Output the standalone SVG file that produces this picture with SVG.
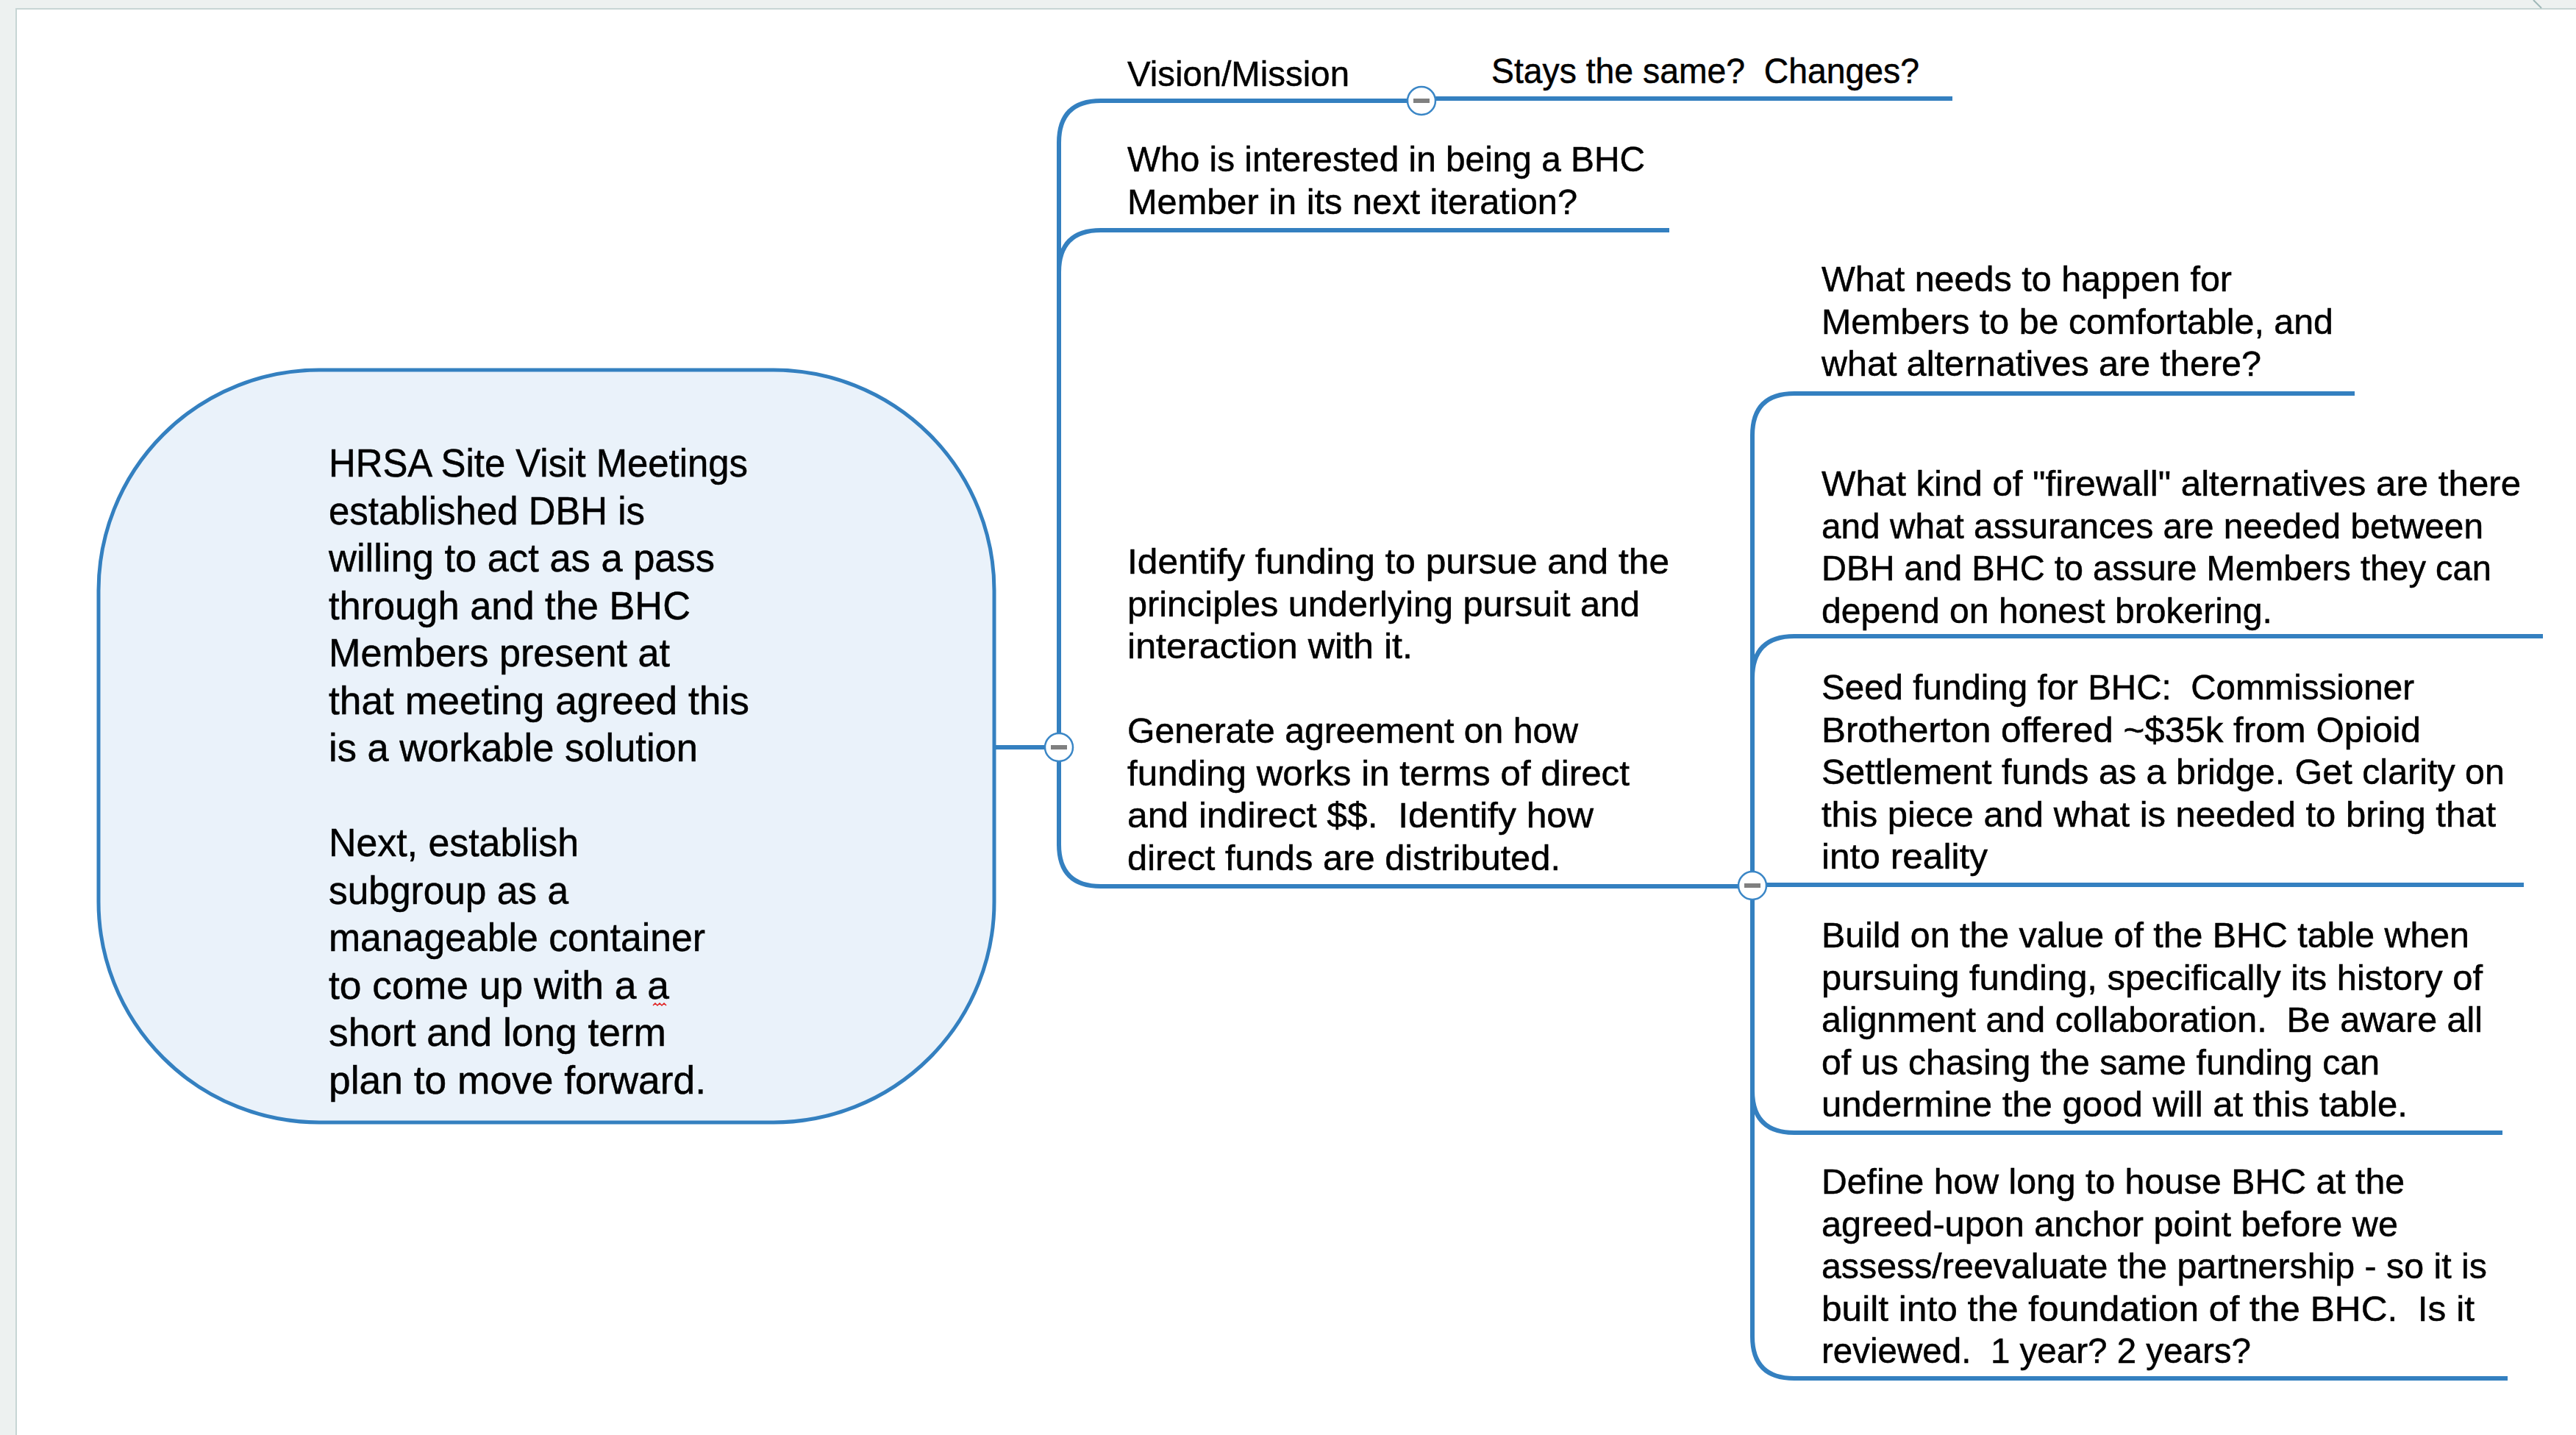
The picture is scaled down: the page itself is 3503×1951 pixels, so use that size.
<svg xmlns="http://www.w3.org/2000/svg" width="3503" height="1951" viewBox="0 0 3503 1951">
<style>
.t{font-family:"Liberation Sans",Arial,sans-serif;font-size:49px;fill:#000;stroke:#000;stroke-width:0.5;white-space:pre}
.c{font-size:53px}
.ln{fill:none;stroke:#3480c0;stroke-width:6;stroke-linecap:butt}
.tc{fill:#fff;stroke:#3a86c6;stroke-width:2.5}
.tm{fill:#808080}
</style>
<defs>
<g id="toggle"><circle class="tc" cx="0" cy="0" r="19"/><rect class="tm" x="-11" y="-3" width="22" height="6"/></g>
</defs>
<rect x="0" y="0" width="3503" height="1951" fill="#edf1f0"/>
<rect x="22" y="12" width="3481" height="1939" fill="#fff"/>
<path d="M22 1951V12H3503" fill="none" stroke="#c7d5d4" stroke-width="2"/>
<path d="M3445 0L3456 11" fill="none" stroke="#9fb8b8" stroke-width="2"/>

<g id="connectors">
<path class="ln" d="M1352 1016H1440"/>
<path class="ln" d="M1440 1150V194Q1440 137 1497 137H1915"/>
<path class="ln" d="M1952 134H2655"/>
<path class="ln" d="M2270 313H1497Q1440 313 1440 370"/>
<path class="ln" d="M1440 1148Q1440 1205 1497 1205H2383"/>
<path class="ln" d="M2383 1817V592Q2383 535 2440 535H3202"/>
<path class="ln" d="M3458 865H2440Q2383 865 2383 922"/>
<path class="ln" d="M2383 1203H3432"/>
<path class="ln" d="M2383 1483Q2383 1540 2440 1540H3403"/>
<path class="ln" d="M2383 1817Q2383 1874 2440 1874H3410"/>
</g>

<g id="central">
<rect x="134" y="503" width="1218" height="1023" rx="300" ry="300" fill="#eaf2fa" stroke="#3480c0" stroke-width="5"/>
<text class="t c" x="447" y="648" textLength="570" lengthAdjust="spacingAndGlyphs">HRSA Site Visit Meetings</text>
<text class="t c" x="447" y="712.5" textLength="430" lengthAdjust="spacingAndGlyphs">established DBH is</text>
<text class="t c" x="447" y="777" textLength="525" lengthAdjust="spacingAndGlyphs">willing to act as a pass</text>
<text class="t c" x="447" y="841.5" textLength="492" lengthAdjust="spacingAndGlyphs">through and the BHC</text>
<text class="t c" x="447" y="906" textLength="464" lengthAdjust="spacingAndGlyphs">Members present at</text>
<text class="t c" x="447" y="970.5" textLength="572" lengthAdjust="spacingAndGlyphs">that meeting agreed this</text>
<text class="t c" x="447" y="1035" textLength="502" lengthAdjust="spacingAndGlyphs">is a workable solution</text>
<text class="t c" x="447" y="1164" textLength="340" lengthAdjust="spacingAndGlyphs">Next, establish</text>
<text class="t c" x="447" y="1228.5" textLength="326" lengthAdjust="spacingAndGlyphs">subgroup as a</text>
<text class="t c" x="447" y="1293" textLength="512" lengthAdjust="spacingAndGlyphs">manageable container</text>
<text class="t c" x="447" y="1357.5" textLength="463" lengthAdjust="spacingAndGlyphs">to come up with a a</text>
<text class="t c" x="447" y="1422" textLength="459" lengthAdjust="spacingAndGlyphs">short and long term</text>
<text class="t c" x="447" y="1486.5" textLength="513" lengthAdjust="spacingAndGlyphs">plan to move forward.</text>
<path d="M888 1367l3 -3l3 3l3 -3l3 3l3 -3l3 3" fill="none" stroke="#e02020" stroke-width="1.5"/>
</g>

<g id="vision">
<text class="t" x="1533" y="117" textLength="302" lengthAdjust="spacingAndGlyphs">Vision/Mission</text>
</g>
<g id="stays">
<text class="t" x="2028" y="113" textLength="582" lengthAdjust="spacingAndGlyphs">Stays the same?  Changes?</text>
</g>
<g id="who">
<text class="t" x="1533" y="233" textLength="704" lengthAdjust="spacingAndGlyphs">Who is interested in being a BHC</text>
<text class="t" x="1533" y="291" textLength="612" lengthAdjust="spacingAndGlyphs">Member in its next iteration?</text>
</g>
<g id="funding">
<text class="t" x="1533" y="780" textLength="737" lengthAdjust="spacingAndGlyphs">Identify funding to pursue and the</text>
<text class="t" x="1533" y="837.5" textLength="697" lengthAdjust="spacingAndGlyphs">principles underlying pursuit and</text>
<text class="t" x="1533" y="895" textLength="388" lengthAdjust="spacingAndGlyphs">interaction with it.</text>
<text class="t" x="1533" y="1010" textLength="613" lengthAdjust="spacingAndGlyphs">Generate agreement on how</text>
<text class="t" x="1533" y="1067.5" textLength="683" lengthAdjust="spacingAndGlyphs">funding works in terms of direct</text>
<text class="t" x="1533" y="1125" textLength="634" lengthAdjust="spacingAndGlyphs">and indirect $$.  Identify how</text>
<text class="t" x="1533" y="1182.5" textLength="589" lengthAdjust="spacingAndGlyphs">direct funds are distributed.</text>
</g>
<g id="comfortable">
<text class="t" x="2477" y="396" textLength="558" lengthAdjust="spacingAndGlyphs">What needs to happen for</text>
<text class="t" x="2477" y="453.5" textLength="696" lengthAdjust="spacingAndGlyphs">Members to be comfortable, and</text>
<text class="t" x="2477" y="511" textLength="598" lengthAdjust="spacingAndGlyphs">what alternatives are there?</text>
</g>
<g id="firewall">
<text class="t" x="2477" y="674" textLength="951" lengthAdjust="spacingAndGlyphs">What kind of "firewall" alternatives are there</text>
<text class="t" x="2477" y="731.5" textLength="900" lengthAdjust="spacingAndGlyphs">and what assurances are needed between</text>
<text class="t" x="2477" y="789" textLength="911" lengthAdjust="spacingAndGlyphs">DBH and BHC to assure Members they can</text>
<text class="t" x="2477" y="846.5" textLength="613" lengthAdjust="spacingAndGlyphs">depend on honest brokering.</text>
</g>
<g id="seed">
<text class="t" x="2477" y="951" textLength="806" lengthAdjust="spacingAndGlyphs">Seed funding for BHC:  Commissioner</text>
<text class="t" x="2477" y="1008.5" textLength="815" lengthAdjust="spacingAndGlyphs">Brotherton offered ~$35k from Opioid</text>
<text class="t" x="2477" y="1066" textLength="929" lengthAdjust="spacingAndGlyphs">Settlement funds as a bridge. Get clarity on</text>
<text class="t" x="2477" y="1123.5" textLength="917" lengthAdjust="spacingAndGlyphs">this piece and what is needed to bring that</text>
<text class="t" x="2477" y="1181" textLength="226" lengthAdjust="spacingAndGlyphs">into reality</text>
</g>
<g id="build">
<text class="t" x="2477" y="1288" textLength="881" lengthAdjust="spacingAndGlyphs">Build on the value of the BHC table when</text>
<text class="t" x="2477" y="1345.5" textLength="899" lengthAdjust="spacingAndGlyphs">pursuing funding, specifically its history of</text>
<text class="t" x="2477" y="1403" textLength="899" lengthAdjust="spacingAndGlyphs">alignment and collaboration.  Be aware all</text>
<text class="t" x="2477" y="1460.5" textLength="759" lengthAdjust="spacingAndGlyphs">of us chasing the same funding can</text>
<text class="t" x="2477" y="1518" textLength="797" lengthAdjust="spacingAndGlyphs">undermine the good will at this table.</text>
</g>
<g id="define">
<text class="t" x="2477" y="1623" textLength="793" lengthAdjust="spacingAndGlyphs">Define how long to house BHC at the</text>
<text class="t" x="2477" y="1680.5" textLength="784" lengthAdjust="spacingAndGlyphs">agreed-upon anchor point before we</text>
<text class="t" x="2477" y="1738" textLength="905" lengthAdjust="spacingAndGlyphs">assess/reevaluate the partnership - so it is</text>
<text class="t" x="2477" y="1795.5" textLength="888" lengthAdjust="spacingAndGlyphs">built into the foundation of the BHC.  Is it</text>
<text class="t" x="2477" y="1853" textLength="584" lengthAdjust="spacingAndGlyphs">reviewed.  1 year? 2 years?</text>
</g>

<g id="toggles">
<use href="#toggle" x="1440" y="1016"/>
<use href="#toggle" x="1933" y="137"/>
<use href="#toggle" x="2383" y="1204"/>
</g>
</svg>
